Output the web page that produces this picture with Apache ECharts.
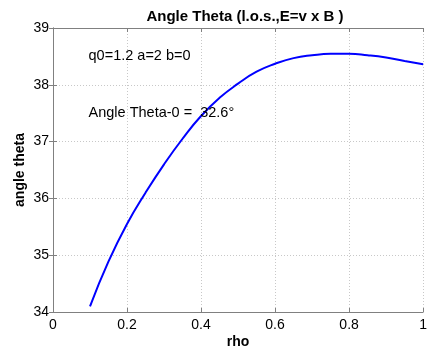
<!DOCTYPE html>
<html><head><meta charset="utf-8">
<script src="https://cdn.jsdelivr.net/npm/echarts@6/dist/echarts.min.js"></script>
<style>html,body{margin:0;padding:0;background:#fff}#c{width:430px;height:354px}</style>
</head><body><div id="c"></div>
<script>
const rho = [0.10,0.15,0.20,0.25,0.30,0.35,0.40,0.45,0.50,0.55,0.60,0.65,0.70,0.75,0.80,0.85,0.90,0.95,1.00];
const theta = [34.10,34.89,35.55,36.10,36.60,37.05,37.45,37.77,38.02,38.23,38.37,38.47,38.52,38.545,38.545,38.52,38.48,38.42,38.36];
const xTicks = [0,0.2,0.4,0.6,0.8,1];
const yTicks = [34,35,36,37,38,39];
const noteX = [0.096, 0.096];
const noteY = [38.51, 37.51];
const noteText = ['q0=1.2 a=2 b=0', 'Angle Theta-0 =  32.6\u00b0'];
const FONT = 'Liberation Sans, Arial, sans-serif';
const chart = echarts.init(document.getElementById('c'), null, {renderer:'canvas'});
const axisLine = {show:true, lineStyle:{color:'#808080', width:1}};
const tick = {show:true, inside:true, length:4, lineStyle:{color:'#808080'}};
const grid = {show:true, lineStyle:{color:'#c8c8c8', type:[1,2], width:1}};
chart.setOption({
  animation:false,
  backgroundColor:'#fff',
  title:{text:'Angle Theta (l.o.s.,E=v x B )', left:240, top:4, textAlign:'center',
    textStyle:{fontFamily:FONT, fontSize:15, fontWeight:'bold', color:'#000'}},
  grid:{left:53, right:3, top:28, bottom:41, containLabel:false},
  xAxis:[{type:'value', min:0, max:1, interval:0.2, position:'bottom',
    name:'rho', nameLocation:'middle', nameGap:23, nameMoveOverlap:false,
    nameTextStyle:{fontFamily:FONT, fontSize:14, fontWeight:'bold', color:'#000'},
    axisLine, axisTick:tick,
    axisLabel:{fontFamily:FONT, fontSize:14, color:'#000', margin:6,
      formatter:v=>xTicks.includes(+v.toFixed(1))?String(+v.toFixed(1)):''},
    splitLine:grid},
    {type:'value', min:0, max:1, interval:0.2, position:'top', axisLine,
     axisTick:tick, axisLabel:{show:false}, splitLine:{show:false}}],
  yAxis:[{type:'value', min:34, max:39, interval:1, position:'left',
    name:'angle theta', nameLocation:'middle', nameGap:26, nameRotate:90, nameMoveOverlap:false,
    nameTextStyle:{fontFamily:FONT, fontSize:14, fontWeight:'bold', color:'#000'},
    axisLine, axisTick:tick,
    axisLabel:{fontFamily:FONT, fontSize:14, color:'#000', margin:4,
      formatter:v=>yTicks.includes(v)?String(v):''},
    splitLine:grid},
    {type:'value', min:34, max:39, interval:1, position:'right', axisLine,
     axisTick:tick, axisLabel:{show:false}, splitLine:{show:false}}],
  series:[
    {type:'line', data:rho.map((r,i)=>[r,theta[i]]), smooth:true, showSymbol:false,
     lineStyle:{color:'#0000ff', width:2}, z:3},
    {type:'scatter', data:noteX.map((x,i)=>[x,noteY[i],noteText[i]]), symbolSize:0, silent:true,
     itemStyle:{opacity:1},
     label:{show:true, position:'right', distance:0, formatter:p=>p.data[2],
       fontFamily:FONT, fontSize:14.5, color:'#000', opacity:1}, z:5}
  ]
});
</script></body></html>
